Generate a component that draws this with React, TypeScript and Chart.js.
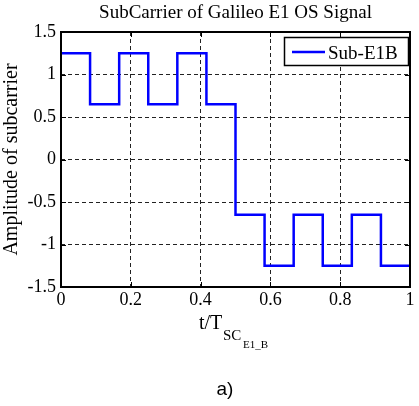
import React, { useEffect, useRef } from "react";
import { Chart, registerables } from "chart.js";

Chart.register(...registerables);

const timeValues = [0, 0.0833, 0.1667, 0.25, 0.3333, 0.4167, 0.5, 0.5833, 0.6667, 0.75, 0.8333, 0.9167, 1];
const amplitudeValues = [1.25, 0.65, 1.25, 0.65, 1.25, 0.65, -0.65, -1.25, -0.65, -1.25, -0.65, -1.25, -1.25];
const xTickValues = [0, 0.2, 0.4, 0.6, 0.8, 1];
const xTickLabels = ["0", "0.2", "0.4", "0.6", "0.8", "1"];
const yTickValues = [-1.5, -1, -0.5, 0, 0.5, 1, 1.5];
const yTickLabels = ["-1.5", "-1", "-0.5", "0", "0.5", "1", "1.5"];
const seriesLabel = "Sub-E1B";
const chartTitle = "SubCarrier of Galileo E1 OS Signal";
const yAxisTitle = "Amplitude of subcarrier";
const captionText = "a)";

const SERIF = "'Liberation Serif', 'DejaVu Serif', serif";
const SANS = "'Liberation Sans', Arial, sans-serif";

const decorPlugin = {
  id: "decor",
  afterDatasetsDraw(chart: any) {
    const { ctx, chartArea } = chart;
    const { left, right, top, bottom } = chartArea;
    const xs = chart.scales.x;
    const ys = chart.scales.y;
    ctx.save();
    // inner ticks
    ctx.strokeStyle = "#000";
    ctx.lineWidth = 1;
    ctx.beginPath();
    xTickValues.forEach((v) => {
      const px = Math.round(xs.getPixelForValue(v)) + 0.5;
      ctx.moveTo(px, bottom);
      ctx.lineTo(px, bottom - 5);
      ctx.moveTo(px, top);
      ctx.lineTo(px, top + 5);
    });
    yTickValues.forEach((v) => {
      const py = Math.round(ys.getPixelForValue(v)) + 0.5;
      ctx.moveTo(left, py);
      ctx.lineTo(left + 5, py);
      ctx.moveTo(right, py);
      ctx.lineTo(right - 5, py);
    });
    ctx.stroke();
    // frame
    ctx.lineWidth = 2;
    ctx.strokeRect(left, top, right - left, bottom - top);

    // legend
    const ds = chart.data.datasets[0];
    const lx = 284, ly = 37, lw = 125, lh = 29;
    ctx.fillStyle = "#fff";
    ctx.fillRect(lx, ly, lw, lh);
    ctx.lineWidth = 1.5;
    ctx.strokeStyle = "#000";
    ctx.strokeRect(lx + 0.5, ly + 0.5, lw - 1, lh - 1);
    ctx.strokeStyle = ds.borderColor;
    ctx.lineWidth = 2.5;
    ctx.beginPath();
    ctx.moveTo(292, 52);
    ctx.lineTo(325, 52);
    ctx.stroke();
    ctx.fillStyle = "#000";
    ctx.font = `19px ${SERIF}`;
    ctx.textAlign = "left";
    ctx.textBaseline = "alphabetic";
    ctx.fillText(ds.label, 328, 59);

    // title
    ctx.textAlign = "center";
    ctx.font = `19px ${SERIF}`;
    ctx.fillText(chartTitle, (left + right) / 2, 18);

    // x axis title t/T_{SC_{E1_B}}
    ctx.textAlign = "left";
    ctx.font = `20px ${SERIF}`;
    ctx.fillText("t/T", 199, 329);
    ctx.font = `15px ${SERIF}`;
    ctx.fillText("SC", 223, 340);
    ctx.font = `11px ${SERIF}`;
    ctx.fillText("E1_B", 243, 348);

    // caption
    ctx.textAlign = "center";
    ctx.font = `19px ${SANS}`;
    ctx.fillText(captionText, 225, 395);
    ctx.restore();
  },
};

export default function App() {
  const ref = useRef<HTMLCanvasElement | null>(null);
  useEffect(() => {
    if (!ref.current) return;
    const chart = new Chart(ref.current, {
      type: "line",
      data: {
        datasets: [
          {
            label: seriesLabel,
            data: timeValues.map((t, i) => ({ x: t, y: amplitudeValues[i] })),
            borderColor: "rgb(0,0,255)",
            borderWidth: 2.5,
            pointRadius: 0,
            stepped: true,
            fill: false,
          },
        ],
      },
      options: {
        responsive: false,
        animation: false,
        layout: { padding: { top: 32, right: 9, left: 0, bottom: 0 } },
        plugins: {
          legend: { display: false },
          title: { display: false },
          tooltip: { enabled: false },
        },
        scales: {
          x: {
            type: "linear",
            min: 0,
            max: 1,
            afterBuildTicks: (scale: any) => {
              scale.ticks = xTickValues.map((v) => ({ value: v }));
            },
            afterFit: (scale: any) => {
              scale.height = 119;
            },
            ticks: {
              callback: (_v: any, i: number) => xTickLabels[i],
              font: { family: SERIF, size: 18 },
              color: "#000",
              padding: 2,
              maxRotation: 0,
              autoSkip: false,
            },
            grid: { color: "#222", lineWidth: 1, drawTicks: false },
            border: { display: false, dash: [4, 3] },
          },
          y: {
            type: "linear",
            min: -1.5,
            max: 1.5,
            afterBuildTicks: (scale: any) => {
              scale.ticks = yTickValues.map((v) => ({ value: v }));
            },
            afterFit: (scale: any) => {
              scale.width = 61;
            },
            ticks: {
              callback: (_v: any, i: number) => yTickLabels[i],
              font: { family: SERIF, size: 18 },
              color: "#000",
              padding: 5,
              autoSkip: false,
            },
            title: {
              display: true,
              text: yAxisTitle,
              font: { family: SERIF, size: 20 },
              color: "#000",
              padding: { top: 0, bottom: 0 },
            },
            grid: { color: "#222", lineWidth: 1, drawTicks: false },
            border: { display: false, dash: [4, 3] },
          },
        },
      },
      plugins: [decorPlugin],
    });
    return () => chart.destroy();
  }, []);
  return (
    <div style={{ position: "fixed", left: 0, top: 0, width: 419, height: 406, background: "#fff" }}>
      <canvas ref={ref} width={419} height={406} style={{ display: "block" }} />
    </div>
  );
}
